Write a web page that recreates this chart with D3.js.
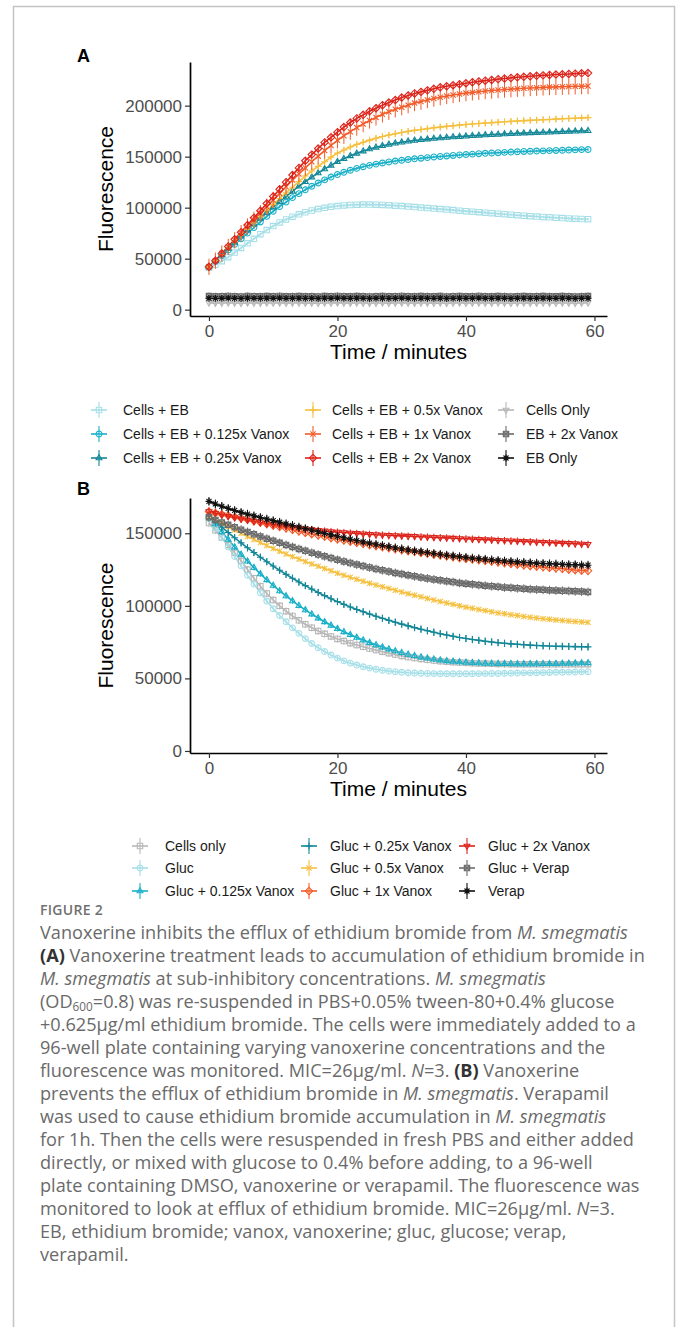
<!DOCTYPE html>
<html>
<head>
<meta charset="utf-8">
<script src="https://cdn.jsdelivr.net/npm/d3@7"></script>
<style>
  body { margin: 0; background: #fff; }
  svg { display: block; }
</style>
</head>
<body>
<svg id="fig" width="680" height="1327"></svg>
<script>
// Time points (minutes)
const minutes = [0,1,2,3,4,5,6,7,8,9,10,11,12,13,14,15,16,17,18,19,20,21,22,23,24,25,26,27,28,29,
  30,31,32,33,34,35,36,37,38,39,40,41,42,43,44,45,46,47,48,49,50,51,52,53,54,55,56,57,58,59]

// ---- Panel A: accumulation (fluorescence / 1000) ----
const aCellsEB = [41,44,47.5,51.5,56,60.5,65,69.5,74,78,
  82,85.5,88.5,91.2,93.5,95.5,97.2,98.6,99.8,100.8,
  101.6,102.2,102.6,102.9,103,103,102.9,102.7,102.4,102,
  101.6,101.1,100.6,100.1,99.6,99.1,98.6,98.1,97.6,97.1,
  96.6,96.1,95.6,95.1,94.6,94.1,93.6,93.1,92.6,92.1,
  91.7,91.3,90.9,90.5,90.1,89.8,89.5,89.2,88.9,88.7]
const aVanox0125 = [42,47.5,53,58.5,64,69.5,75,80.5,86,91.5,
  96.5,101,105.5,109.8,113.8,117.5,121,124.2,127.2,130,
  132.5,134.7,136.7,138.5,140.1,141.5,142.7,143.8,144.8,145.7,
  146.5,147.2,147.9,148.5,149.1,149.7,150.2,150.7,151.2,151.7,
  152.1,152.5,152.9,153.3,153.6,153.9,154.2,154.5,154.8,155.1,
  155.3,155.5,155.7,155.9,156.1,156.3,156.5,156.7,156.9,157]
const aVanox025 = [42,48,54,60,66,72,78,84,89.5,95,
  100.5,106,111,116,121,125.5,130,134,138,141.5,
  145,148,150.8,153.3,155.5,157.5,159.2,160.7,162,163.2,
  164.2,165.1,165.9,166.6,167.2,167.8,168.3,168.8,169.3,169.7,
  170.1,170.5,170.9,171.3,171.6,171.9,172.2,172.5,172.8,173.1,
  173.4,173.6,173.8,174,174.3,174.6,174.8,175,175.2,175.4]
const aVanox05 = [42,48,54,60.5,67,73,79,85,91,97,
  103,109,114.5,120,125.5,131,136,140.5,145,149.5,
  153.5,156.5,159.5,162,164.2,166.2,168,169.7,171.2,172.5,
  173.7,174.8,175.8,176.7,177.5,178.3,179,179.7,180.3,180.9,
  181.5,182,182.5,183,183.4,183.8,184.2,184.6,185,185.3,
  185.6,185.9,186.2,186.5,186.8,187.1,187.4,187.7,188,188.3]
const aVanox1 = [42,48,55,61.5,68,75,81.5,88,94.5,101,
  107.5,114,120.5,127,133,139,145,150.5,156,161,
  166,170.5,174.5,178.5,182,185.5,188.5,191.5,194,196.5,
  198.5,200.5,202.5,204,205.5,207,208.3,209.5,210.5,211.5,
  212.3,213,213.7,214.3,214.8,215.3,215.8,216.2,216.6,217,
  217.3,217.6,217.9,218.2,218.4,218.6,218.8,219,219.1,219.2]
const aVanox2 = [42,48,55,62,69,76,83,90,97,104,
  111,118,125,132,139,146,152,158,164,169,
  174,179,183.5,187.5,191,194.5,197.5,200.5,203,205.5,
  208,210,212,213.5,215,216.5,218,219,220,221,
  222,223,223.8,224.5,225.2,226,226.6,227.2,227.8,228.3,
  228.8,229.3,229.7,230.1,230.5,230.8,231.1,231.4,231.7,232]
const aCellsOnly = [6.6,6.4,6.5,6.7,6.5,6.3,6.6,6.5,6.4,6.6,
  6.5,6.7,6.4,6.5,6.6,6.4,6.5,6.3,6.6,6.5,
  6.7,6.5,6.4,6.6,6.5,6.3,6.5,6.6,6.4,6.5,
  6.7,6.5,6.4,6.6,6.5,6.4,6.6,6.3,6.5,6.6,
  6.4,6.5,6.7,6.5,6.4,6.6,6.5,6.3,6.5,6.6,
  6.4,6.5,6.6,6.5,6.4,6.6,6.5,6.3,6.5,6.6]
const aEBVanox2 = [13.3,13.1,13.2,13.4,13.2,13.0,13.3,13.2,13.1,13.3,
  13.2,13.4,13.1,13.2,13.3,13.1,13.2,13.0,13.3,13.2,
  13.4,13.2,13.1,13.3,13.2,13.0,13.2,13.3,13.1,13.2,
  13.4,13.2,13.1,13.3,13.2,13.1,13.3,13.0,13.2,13.3,
  13.1,13.2,13.4,13.2,13.1,13.3,13.2,13.0,13.2,13.3,
  13.1,13.2,13.3,13.2,13.1,13.3,13.2,13.0,13.2,13.3]
const aEBOnly = [11.2,11.0,11.1,11.3,11.1,10.9,11.2,11.1,11.0,11.2,
  11.1,11.3,11.0,11.1,11.2,11.0,11.1,10.9,11.2,11.1,
  11.3,11.1,11.0,11.2,11.1,10.9,11.1,11.2,11.0,11.1,
  11.3,11.1,11.0,11.2,11.1,11.0,11.2,10.9,11.1,11.2,
  11.0,11.1,11.3,11.1,11.0,11.2,11.1,10.9,11.1,11.2,
  11.0,11.1,11.2,11.1,11.0,11.2,11.1,10.9,11.1,11.2]
const aNames = ["Cells + EB", "Cells + EB + 0.125x Vanox", "Cells + EB + 0.25x Vanox",
  "Cells + EB + 0.5x Vanox", "Cells + EB + 1x Vanox", "Cells + EB + 2x Vanox",
  "Cells Only", "EB + 2x Vanox", "EB Only"]
const aErrors = [1.5, 1.5, 2, 3, 8, 3, 2.5, 3.5, 1.5]

// ---- Panel B: efflux (fluorescence / 1000) ----
const bCellsOnly = [157,152,147,142,136.5,131,125,119,113.5,108.5,
  104,100,96.3,93,90,87.3,84.9,82.7,80.7,78.9,
  77.2,75.7,74.3,73,71.8,70.6,69.5,68.4,67.4,66.4,
  65.5,64.7,64,63.4,62.8,62.3,61.9,61.5,61.2,60.9,
  60.7,60.5,60.3,60.2,60.1,60,59.9,59.8,59.8,59.7,
  59.7,59.7,59.7,59.7,59.7,59.7,59.7,59.8,59.8,59.8]
const bGluc = [160,153.5,147,140.5,134,127.5,121,115,109,103.3,
  98,93.3,89,84.8,81,77.4,74,71.1,68.5,66.1,
  64,62.1,60.5,59.2,58,57.1,56.3,55.6,55,54.6,
  54.2,53.9,53.7,53.5,53.4,53.3,53.2,53.2,53.2,53.2,
  53.2,53.2,53.3,53.3,53.4,53.4,53.5,53.6,53.7,53.8,
  53.8,53.9,54,54.1,54.2,54.2,54.3,54.4,54.5,54.6]
const bVanox0125 = [162,156.4,151,145.7,140.5,135.5,130.8,126.3,122,117.9,
  114,110.3,106.8,103.4,100.2,97.2,94.3,91.6,89,86.6,
  84.3,82.1,80.1,78.2,76.4,74.7,73.1,71.6,70.2,68.9,
  67.7,66.6,65.6,64.7,63.9,63.2,62.6,62.1,61.7,61.3,
  61,60.8,60.6,60.4,60.3,60.2,60.1,60.1,60,60,
  60,60,60.1,60.1,60.2,60.3,60.4,60.5,60.6,60.7]
const bVanox025 = [162,158,154.2,150.5,146.9,143.4,140,136.7,133.5,130.4,
  127.4,124.5,121.7,119,116.4,113.9,111.5,109.2,107,104.9,
  102.9,101,99.2,97.5,95.9,94.3,92.8,91.4,90,88.7,
  87.4,86.2,85,83.9,82.8,81.8,80.8,79.9,79,78.2,
  77.5,76.8,76.2,75.6,75.1,74.6,74.2,73.8,73.5,73.2,
  72.9,72.7,72.5,72.3,72.2,72.1,72,71.9,71.8,71.7]
const bVanox05 = [162,159.5,157,154.6,152.3,150,147.8,145.7,143.6,141.5,
  139.5,137.6,135.7,133.9,132.2,130.5,128.9,127.3,125.7,124.1,
  122.5,121.1,119.7,118.3,116.9,115.5,114.3,113.1,111.9,110.7,
  109.5,108.4,107.3,106.2,105.1,104,103,102,101,100,
  99.1,98.3,97.5,96.7,95.9,95.1,94.5,93.9,93.3,92.7,
  92.1,91.6,91.1,90.7,90.3,89.9,89.5,89.2,88.9,88.6]
const bVanox1 = [165,164,163.1,162.2,161.3,160.4,159.4,158.4,157.4,156.4,
  155.4,154.4,153.4,152.4,151.4,150.4,149.5,148.6,147.7,146.8,
  145.9,145.1,144.3,143.5,142.7,141.9,141.2,140.5,139.8,139.1,
  138.4,137.8,137.2,136.6,136,135.4,134.8,134.2,133.6,133,
  132.5,132,131.5,131,130.5,130,129.5,129,128.5,128,
  127.5,127.1,126.7,126.3,125.9,125.5,125.1,124.7,124.4,124.1]
const bVanox2 = [165,163.8,162.7,161.7,160.8,159.9,159,158.2,157.4,156.7,
  156,155.3,154.7,154.1,153.5,153,152.5,152,151.6,151.2,
  150.8,150.5,150.2,149.9,149.6,149.3,149,148.8,148.6,148.4,
  148.2,148,147.8,147.6,147.4,147.2,147,146.8,146.6,146.4,
  146.2,146,145.8,145.6,145.4,145.2,145,144.8,144.6,144.4,
  144.2,144,143.8,143.6,143.4,143.2,143,142.8,142.6,142.4]
const bGlucVerap = [161,159.2,157.5,155.8,154.1,152.5,150.9,149.3,147.8,146.3,
  144.8,143.4,142,140.6,139.2,137.9,136.6,135.3,134.1,132.9,
  131.7,130.6,129.5,128.4,127.4,126.4,125.4,124.5,123.6,122.7,
  121.9,121.1,120.3,119.6,118.9,118.2,117.6,117,116.4,115.8,
  115.3,114.8,114.3,113.9,113.5,113.1,112.7,112.4,112.1,111.8,
  111.5,111.2,111,110.8,110.6,110.4,110.2,110,109.8,109.6]
const bVerap = [172,170.2,168.6,167.1,165.7,164.4,163.2,162,160.9,159.8,
  158.7,157.6,156.5,155.4,154.3,153.2,152.1,151,149.9,148.9,
  147.9,146.9,145.9,145,144.1,143.2,142.4,141.6,140.8,140,
  139.3,138.6,137.9,137.3,136.7,136.1,135.5,134.9,134.4,133.9,
  133.4,132.9,132.5,132.1,131.7,131.3,130.9,130.6,130.3,130,
  129.7,129.4,129.2,129,128.8,128.6,128.4,128.3,128.1,128]
const bNames = ["Cells only", "Gluc", "Gluc + 0.125x Vanox", "Gluc + 0.25x Vanox",
  "Gluc + 0.5x Vanox", "Gluc + 1x Vanox", "Gluc + 2x Vanox", "Gluc + Verap", "Verap"]
const bErrors = [2.5, 1.5, 2, 2.5, 2, 3, 2.5, 3, 3]

// Axis ticks
const xTicks = [0, 20, 40, 60]
const yTicksA = [0, 50000, 100000, 150000, 200000]
const yTicksB = [0, 50000, 100000, 150000]

// Caption, line by line: [text, style]
const captionLines = [
  [["Vanoxerine inhibits the efflux of ethidium bromide from ", ""], ["M. smegmatis", "i"]],
  [["(A)", "b"], [" Vanoxerine treatment leads to accumulation of ethidium bromide in", ""]],
  [["M. smegmatis", "i"], [" at sub-inhibitory concentrations. ", ""], ["M. smegmatis", "i"]],
  [["(OD", ""], ["600", "sub"], ["=0.8) was re-suspended in PBS+0.05% tween-80+0.4% glucose", ""]],
  [["+0.625μg/ml ethidium bromide. The cells were immediately added to a", ""]],
  [["96-well plate containing varying vanoxerine concentrations and the", ""]],
  [["fluorescence was monitored. MIC=26μg/ml. ", ""], ["N", "i"], ["=3. ", ""], ["(B)", "b"], [" Vanoxerine", ""]],
  [["prevents the efflux of ethidium bromide in ", ""], ["M. smegmatis", "i"], [". Verapamil", ""]],
  [["was used to cause ethidium bromide accumulation in ", ""], ["M. smegmatis", "i"]],
  [["for 1h. Then the cells were resuspended in fresh PBS and either added", ""]],
  [["directly, or mixed with glucose to 0.4% before adding, to a 96-well", ""]],
  [["plate containing DMSO, vanoxerine or verapamil. The fluorescence was", ""]],
  [["monitored to look at efflux of ethidium bromide. MIC=26μg/ml. ", ""], ["N", "i"], ["=3.", ""]],
  [["EB, ethidium bromide; vanox, vanoxerine; gluc, glucose; verap,", ""]],
  [["verapamil.", ""]]
]

// Styles
const pale = "#a6dfe8", cyan = "#19b0c8", teal = "#138797", yellow = "#f5c040",
      orange = "#f25c2a", red = "#dc2219", lgray = "#b8b8b8", dgray = "#6b6b6b", black = "#111111"
const colorsA = [pale, cyan, teal, yellow, orange, red, lgray, dgray, black]
const colorsB = [lgray, pale, cyan, teal, yellow, orange, red, dgray, black]

// ggplot shapes 0..8
const shapePaths = [
  "M-2.7,-2.7H2.7V2.7H-2.7Z",
  "M2.9,0A2.9,2.9 0 1,1 -2.9,0A2.9,2.9 0 1,1 2.9,0Z",
  "M0,-3.3L2.9,1.8L-2.9,1.8Z",
  "M-3.4,0H3.4M0,-3.4V3.4",
  "M-2.6,-2.6L2.6,2.6M-2.6,2.6L2.6,-2.6",
  "M0,-3.7L3.7,0L0,3.7L-3.7,0Z",
  "M0,3.3L2.9,-1.8L-2.9,-1.8Z",
  "M-2.7,-2.7H2.7V2.7H-2.7ZM-2.7,-2.7L2.7,2.7M-2.7,2.7L2.7,-2.7",
  "M-3.4,0H3.4M0,-3.4V3.4M-2.5,-2.5L2.5,2.5M-2.5,2.5L2.5,-2.5"
]

const chartFont = "'Liberation Sans', Arial, Helvetica, sans-serif"
const svg = d3.select("#fig")

// outer frame
svg.append("rect")
  .attr("x", 13.5).attr("y", 6.5)
  .attr("width", 661).attr("height", 1340)
  .attr("fill", "none").attr("stroke", "#c4c4c4").attr("stroke-width", 1.5)

function drawPanel(o) {
  const x = d3.scaleLinear().domain([-2.95, 61.95]).range([190, 607])
  const y = d3.scaleLinear().domain(o.yDomain).range([o.bottom, o.top])
  const g = svg.append("g").attr("font-family", chartFont)

  const line = d3.line()
    .x((d, j) => x(minutes[j]))
    .y(d => y(d * 1000))

  // lines
  o.series.forEach((vals, i) => {
    g.append("path")
      .datum(vals)
      .attr("d", line)
      .attr("fill", "none")
      .attr("stroke", o.colors[i])
      .attr("stroke-width", 1.6)
  })

  // points and error bars
  o.series.forEach((vals, i) => {
    const sg = g.append("g").attr("stroke", o.colors[i]).attr("fill", "none")
    sg.selectAll("line.err").data(vals).join("line")
      .attr("class", "err")
      .attr("x1", (d, j) => x(minutes[j]))
      .attr("x2", (d, j) => x(minutes[j]))
      .attr("y1", d => y((d - o.errors[i]) * 1000))
      .attr("y2", d => y((d + o.errors[i]) * 1000))
      .attr("stroke-width", 1)
    sg.selectAll("path.pt").data(vals).join("path")
      .attr("class", "pt")
      .attr("d", shapePaths[i])
      .attr("transform", (d, j) => `translate(${x(minutes[j])},${y(d * 1000)})`)
      .attr("stroke-width", 1.1)
  })

  // axes
  const xAxisG = g.append("g")
    .attr("transform", `translate(0,${o.bottom})`)
    .call(d3.axisBottom(x).tickValues(xTicks).tickSize(5).tickSizeOuter(0).tickPadding(4))
  const yAxisG = g.append("g")
    .attr("transform", `translate(190,0)`)
    .call(d3.axisLeft(y).tickValues(o.yTicks).tickSize(5).tickSizeOuter(0).tickPadding(3)
      .tickFormat(d3.format("d")))
  ;[xAxisG, yAxisG].forEach(a => {
    a.attr("font-family", chartFont).attr("font-size", 17)
    a.select(".domain").attr("stroke", "#000").attr("stroke-width", 1.7)
    a.selectAll(".tick line").attr("stroke", "#333").attr("stroke-width", 1.2)
    a.selectAll(".tick text").attr("fill", "#4d4d4d")
  })

  // axis titles
  g.append("text")
    .attr("transform", `translate(113,${(o.top + o.bottom) / 2}) rotate(-90)`)
    .attr("text-anchor", "middle")
    .attr("font-size", 21)
    .text("Fluorescence")
  g.append("text")
    .attr("x", (190 + 607) / 2).attr("y", o.bottom + 43)
    .attr("text-anchor", "middle")
    .attr("font-size", 21)
    .text("Time / minutes")

  // panel letter
  g.append("text")
    .attr("x", 77).attr("y", o.letterY)
    .attr("font-size", 18).attr("font-weight", "bold")
    .text(o.letter)

  // legend (3 columns, filled column-wise)
  o.names.forEach((name, i) => {
    const col = Math.floor(i / 3), row = i % 3
    const ky = o.legRows[row]
    const kg = g.append("g")
      .attr("transform", `translate(${o.legKeys[col]},${ky})`)
      .attr("stroke", o.colors[i]).attr("fill", "none")
    kg.append("path").attr("d", "M-8,0H8").attr("stroke-width", 1.6)
    kg.append("path").attr("d", "M0,-8V8").attr("stroke-width", 1.1)
    kg.append("path").attr("d", shapePaths[i]).attr("stroke-width", 1.1)
    g.append("text")
      .attr("x", o.legTexts[col]).attr("y", ky)
      .attr("dy", "0.35em")
      .attr("font-size", 14)
      .attr("fill", "#1a1a1a")
      .text(name)
  })
}

drawPanel({
  letter: "A", letterY: 62,
  top: 62, bottom: 316,
  yDomain: [-6200, 242800], yTicks: yTicksA,
  series: [aCellsEB, aVanox0125, aVanox025, aVanox05, aVanox1, aVanox2, aCellsOnly, aEBVanox2, aEBOnly],
  names: aNames, errors: aErrors, colors: colorsA,
  legRows: [410, 434, 458], legKeys: [99, 313, 506], legTexts: [123, 332, 526]
})

drawPanel({
  letter: "B", letterY: 495,
  top: 498, bottom: 753,
  yDomain: [-1400, 174300], yTicks: yTicksB,
  series: [bCellsOnly, bGluc, bVanox0125, bVanox025, bVanox05, bVanox1, bVanox2, bGlucVerap, bVerap],
  names: bNames, errors: bErrors, colors: colorsB,
  legRows: [846, 868, 891], legKeys: [140, 309, 467], legTexts: [165, 330, 488]
})

// caption
svg.append("text")
  .attr("x", 40).attr("y", 915)
  .attr("font-family", "'Open Sans', sans-serif")
  .attr("font-size", 14)
  .attr("font-weight", 600)
  .attr("letter-spacing", 0.3)
  .attr("fill", "#707070")
  .text("FIGURE 2")

const capG = svg.append("g")
  .attr("font-family", "'Open Sans', sans-serif")
  .attr("font-size", 16)
  .attr("fill", "#6a6a6a")

const capTexts = captionLines.map((segs, i) => {
  const t = capG.append("text").attr("x", 40).attr("y", 939 + 23 * i)
  let prevSub = false
  segs.forEach(([s, st]) => {
    const ts = t.append("tspan").text(s)
    if (st === "i") ts.attr("font-style", "italic")
    if (st === "b") ts.attr("font-weight", "bold").attr("fill", "#333")
    if (st === "sub") ts.attr("font-size", "0.65em").attr("dy", 3)
    else if (prevSub) ts.attr("dy", -3)
    prevSub = st === "sub"
  })
  return t
})

// fit caption size to the reference line width
const w = capTexts[11].node().getComputedTextLength()
capG.attr("font-size", 16 * 600 / w)
</script>
</body>
</html>
